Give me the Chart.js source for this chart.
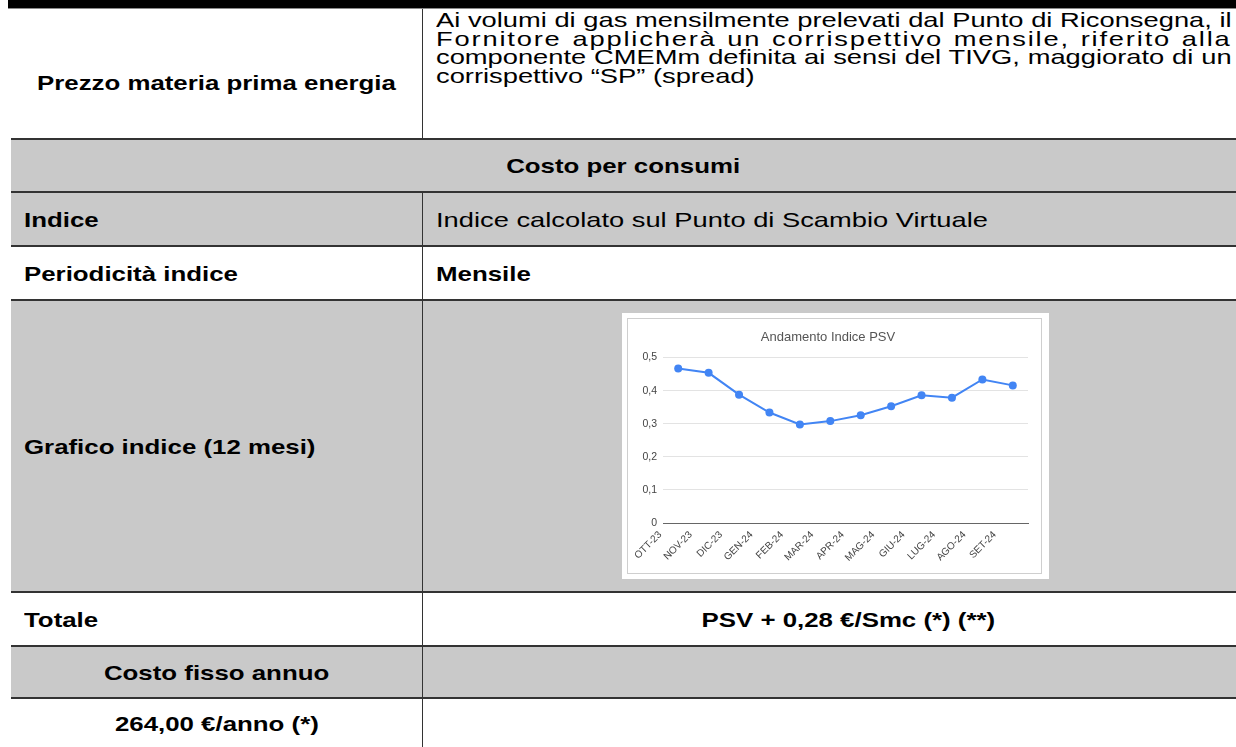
<!DOCTYPE html>
<html lang="it">
<head>
<meta charset="utf-8">
<title>Costo per consumi - Andamento Indice PSV</title>
<script src="https://cdn.jsdelivr.net/npm/chart.js@4.4.1/dist/chart.umd.min.js"></script>
<style>
  html, body {
    margin: 0;
    padding: 0;
    background: #fff;
  }
  body {
    position: relative;
    width: 1236px;
    height: 747px;
    overflow: hidden;
    font-family: "Liberation Sans", Arial, sans-serif;
    color: #000;
  }
  .top-bar {
    position: absolute;
    left: 8px;
    top: 0;
    width: 1228px;
    height: 8px;
    background: #000;
    border-bottom: 1px solid #8a8a8a;
  }
  .band {
    position: absolute;
    left: 11px;
    width: 1225px;
    background: #c9c9c9;
  }
  .hline {
    position: absolute;
    left: 11px;
    width: 1225px;
    height: 2px;
    background: #333;
  }
  .vline {
    position: absolute;
    left: 422px;
    width: 1px;
    background: #333;
  }
  .cell {
    position: absolute;
    display: flex;
    align-items: center;
    font-size: 21px;
    white-space: nowrap;
  }
  .cell span {
    display: inline-block;
    transform: scaleX(1.3);
    transform-origin: left center;
  }
  .bold { font-weight: bold; }
  .bold span { transform: scaleX(1.23); }
  .center { justify-content: center; }
  .center span { transform-origin: center center; }
  .desc {
    position: absolute;
    left: 436px;
    top: 11px;
    width: 612px;
    font-size: 21px;
    line-height: 18.5px;
    transform: scaleX(1.3);
    transform-origin: left top;
  }
  .desc div {
    white-space: nowrap;
    text-align: justify;
    text-align-last: justify;
  }
  .desc div.spaced { letter-spacing: 1.4px; }
  .desc div.last {
    text-align: left;
    text-align-last: left;
  }
  .chart-frame {
    position: absolute;
    left: 622px;
    top: 313px;
    width: 417px;
    height: 256px;
    padding: 5px;
    background: #fff;
  }
  .chart-inner {
    position: relative;
    width: 413px;
    height: 254px;
    border: 1px solid #cfcfcf;
  }
</style>
</head>
<body>

<div class="top-bar"></div>

<!-- grey rows -->
<div class="band" style="top:139px;height:107px"></div>
<div class="band" style="top:300px;height:292px"></div>
<div class="band" style="top:646px;height:52px"></div>

<!-- lines -->
<div class="hline" style="top:138px"></div>
<div class="hline" style="top:191px"></div>
<div class="hline" style="top:245px"></div>
<div class="hline" style="top:299px"></div>
<div class="hline" style="top:591px"></div>
<div class="hline" style="top:645px"></div>
<div class="hline" style="top:697px"></div>
<div class="vline" style="top:9px;height:130px"></div>
<div class="vline" style="top:192px;height:555px"></div>

<!-- text -->
<div class="cell bold" style="left:37px;top:63px;height:40px"><span>Prezzo materia prima energia</span></div>
<div class="desc">
  <div>Ai volumi di gas mensilmente prelevati dal Punto di Riconsegna, il</div>
  <div class="spaced">Fornitore applicherà un corrispettivo mensile, riferito alla</div>
  <div>componente CMEMm definita ai sensi del TIVG, maggiorato di un</div>
  <div class="last">corrispettivo “SP” (spread)</div>
</div>

<div class="cell bold center" style="left:11px;top:140px;width:1225px;height:52px"><span>Costo per consumi</span></div>

<div class="cell bold" style="left:24px;top:193px;height:53px"><span>Indice</span></div>
<div class="cell" style="left:436px;top:193px;height:53px"><span>Indice calcolato sul Punto di Scambio Virtuale</span></div>

<div class="cell bold" style="left:24px;top:247px;height:53px"><span>Periodicità indice</span></div>
<div class="cell bold" style="left:436px;top:247px;height:53px"><span>Mensile</span></div>

<div class="cell bold" style="left:24px;top:301px;height:291px"><span>Grafico indice (12 mesi)</span></div>

<div class="cell bold" style="left:24px;top:593px;height:53px"><span>Totale</span></div>
<div class="cell bold center" style="left:423px;top:593px;width:850px;height:53px"><span>PSV + 0,28 €/Smc (*) (**)</span></div>

<div class="cell bold center" style="left:11px;top:647px;width:412px;height:51px"><span>Costo fisso annuo</span></div>
<div class="cell bold center" style="left:11px;top:699px;width:412px;height:49px"><span>264,00 €/anno (*)</span></div>

<div class="chart-frame">
  <div class="chart-inner">
    <canvas id="psvChart"></canvas>
  </div>
</div>

<script>
/* Data */

const months = [
  "OTT-23", "NOV-23", "DIC-23", "GEN-24", "FEB-24", "MAR-24",
  "APR-24", "MAG-24", "GIU-24", "LUG-24", "AGO-24", "SET-24"
];

const psvIndex = [0.467, 0.454, 0.388, 0.334, 0.298, 0.308, 0.326, 0.353, 0.386, 0.379, 0.434, 0.416];

const yTickValues = [0, 0.1, 0.2, 0.3, 0.4, 0.5];
const yTickLabels = ["0", "0,1", "0,2", "0,3", "0,4", "0,5"];

const chartTitle = "Andamento Indice PSV";

/* Chart */

const psvChartCanvas = document.querySelector("#psvChart");

Chart.defaults.font.family = '"Liberation Sans", Arial, sans-serif';
Chart.defaults.color = "#444";

new Chart(psvChartCanvas, {
  type: "line",
  data: {
    labels: months,
    datasets: [
      {
        label: "PSV",
        data: psvIndex,
        borderColor: "#4285f4",
        backgroundColor: "#4285f4",
        borderWidth: 2,
        pointRadius: 4,
        pointHoverRadius: 4,
        pointBorderWidth: 0,
        tension: 0
      }
    ]
  },
  options: {
    responsive: true,
    maintainAspectRatio: false,
    animation: false,
    layout: {
      padding: { right: 13 }
    },
    plugins: {
      legend: { display: false },
      tooltip: { enabled: false },
      title: {
        display: true,
        text: chartTitle,
        color: "#555",
        font: { size: 13, weight: "normal" },
        padding: { top: 11, bottom: 12 }
      }
    },
    scales: {
      x: {
        offset: true,
        grid: { display: false },
        border: { display: true, color: "#666", width: 1 },
        ticks: {
          color: "#444",
          font: { size: 10 },
          minRotation: 45,
          maxRotation: 45,
          padding: -2,
          labelOffset: -18
        },
        afterFit: scale => { scale.height = 50; }
      },
      y: {
        min: 0,
        max: 0.5,
        grid: { color: "#e3e3e3", drawTicks: false },
        border: { display: false },
        ticks: {
          stepSize: 0.1,
          color: "#444",
          font: { size: 10.5 },
          padding: 6,
          callback: value => {
            const i = yTickValues.findIndex(t => Math.abs(t - value) < 1e-6);
            return i >= 0 ? yTickLabels[i] : value;
          }
        },
        afterFit: scale => { scale.width = 35; }
      }
    }
  }
});
</script>
</body>
</html>
